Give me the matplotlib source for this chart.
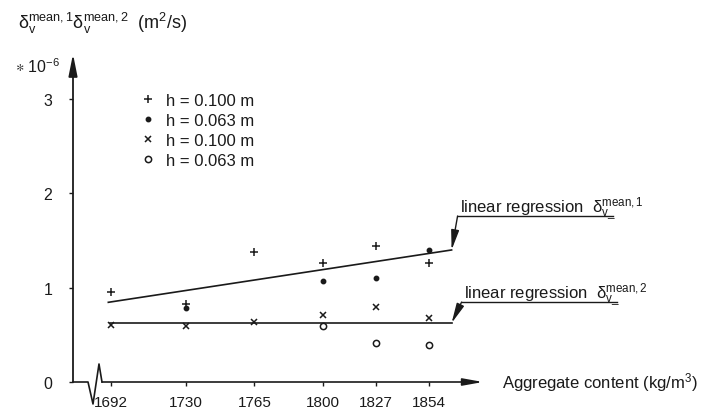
import numpy as np
import matplotlib
matplotlib.use('Agg')
import matplotlib.pyplot as plt
from matplotlib.transforms import Affine2D

plt.rcParams['font.family'] = ['Liberation Sans', 'DejaVu Sans']
plt.rcParams['mathtext.fontset'] = 'custom'
plt.rcParams['mathtext.rm'] = 'Liberation Sans'
plt.rcParams['mathtext.it'] = 'Liberation Sans'
plt.rcParams['mathtext.default'] = 'regular'

# data (values in 1e-6 m^2/s)
contents = [1692, 1730, 1765, 1800, 1827, 1854]
plus_x = [1692, 1730, 1765, 1800, 1827, 1854]
plus_y = [0.95, 0.83, 1.375, 1.26, 1.44, 1.26]
dot_x = [1730, 1800, 1827, 1854]
dot_y = [0.78, 1.07, 1.10, 1.40]
cross_x = [1692, 1730, 1765, 1800, 1827, 1854]
cross_y = [0.60, 0.59, 0.64, 0.71, 0.80, 0.68]
circ_x = [1800, 1827, 1854]
circ_y = [0.59, 0.41, 0.39]
reg1_x = [1690.6, 1865.5]
reg1_y = [0.845, 1.40]
reg2_x = [1691.5, 1865.5]
reg2_y = [0.625, 0.625]
labels = ['h = 0.100 m', 'h = 0.063 m', 'h = 0.100 m', 'h = 0.063 m']

ink = '#1a1a1a'

fig = plt.figure(figsize=(7.02, 4.14), dpi=100)
ax = fig.add_axes([73/702, 31/414, 410/702, 328/414])
ax.set_xlim(1672.6, 1881.5)
ax.set_ylim(0, 3.478)
for s in ax.spines.values():
    s.set_visible(False)

# regression lines
ax.plot(reg1_x, reg1_y, color=ink, lw=1.2)
ax.plot(reg2_x, reg2_y, color=ink, lw=1.2)

# points
h1, = ax.plot(plus_x, plus_y, ls='none', marker='+', ms=6, mew=1.1, color=ink)
h2, = ax.plot(dot_x, dot_y, ls='none', marker='o', ms=3.2, color=ink)
h3, = ax.plot(cross_x, cross_y, ls='none', marker='x', ms=5, mew=1.1, color=ink)
h4, = ax.plot(circ_x, circ_y, ls='none', marker='o', ms=4.5, mfc='white', mew=1.1, color=ink)

ax.legend([h1, h2, h3, h4], labels, loc='upper left', bbox_to_anchor=(0.162, 0.881),
          frameon=False, fontsize=12, handlelength=1, handletextpad=0.6,
          labelspacing=0.3, borderpad=0, borderaxespad=0, labelcolor=ink)

# axes with arrows and break
ax.annotate('', xy=(0, 1), xytext=(0, 0), xycoords='axes fraction',
            arrowprops=dict(arrowstyle='-|>,head_length=1.1,head_width=0.22',
                            color=ink, lw=1.3, shrinkA=0, shrinkB=0, mutation_scale=12))
ax.annotate('', xy=(1, 0), xytext=(0.0707, 0), xycoords='axes fraction',
            arrowprops=dict(arrowstyle='-|>,head_length=1.0,head_width=0.18',
                            color=ink, lw=1.2, shrinkA=0, shrinkB=0, mutation_scale=12))
ax.plot([0, 0.0366, 0.0488, 0.0634, 0.0707], [0, 0, -0.067, 0.0549, 0],
        transform=ax.transAxes, color=ink, lw=1.2, clip_on=False)

ax.set_xticks(contents)
ax.set_xticklabels([str(c) for c in contents])
ax.set_yticks([0, 1, 2, 3])
ax.set_yticklabels(['0', '1', '2', '3'])
ax.tick_params(axis='x', direction='out', length=3, width=1, color=ink,
               labelsize=11, pad=6.5, labelcolor=ink)
ax.tick_params(axis='y', direction='out', length=3, width=1, color=ink,
               labelsize=11.5, pad=12, labelcolor=ink)

ax.text(1.046, 0, r'Aggregate content (kg/m$^3$)', transform=ax.transAxes,
        fontsize=12, va='center', ha='left', color=ink)

fig.text(18/702, 1 - 23/414,
         r'$\delta_{v}^{mean,1}\delta_{v}^{mean,2}$  (m$^2$/s)',
         fontsize=13, va='center', ha='left', color=ink)
fig.text(15/702, 1 - 67/414, r'$\ast$ 10$^{-6}$', fontsize=11.5,
         va='center', ha='left', color=ink)

# regression annotations (leader + underline drawn in pixel offsets from tip)
fig.canvas.draw()
notes = [(reg1_x[-1], reg1_y[-1], r'linear regression  $\delta_{v\_}^{mean,1}$', 34, 6),
         (reg2_x[-1], reg2_y[-1], r'linear regression  $\delta_{v\_}^{mean,2}$', 21, 10)]
for xe, ye, txt, dy, dx in notes:
    ax.annotate('', xy=(xe, ye), xytext=(dx, dy), textcoords='offset pixels',
                arrowprops=dict(arrowstyle='-|>,head_length=1.0,head_width=0.2',
                                color=ink, lw=1.0, shrinkA=0, shrinkB=0, mutation_scale=12))
    tx, ty = ax.transData.transform((xe, ye))
    tr = Affine2D().translate(tx, ty)
    ax.plot([dx, dx + 155], [dy, dy], transform=tr, color=ink, lw=1.0, clip_on=False)
    ax.annotate(txt, xy=(xe, ye), xytext=(dx + 2, dy + 4), textcoords='offset pixels',
                fontsize=12, ha='left', va='baseline', color=ink)

fig.savefig('out.png', dpi=100)
